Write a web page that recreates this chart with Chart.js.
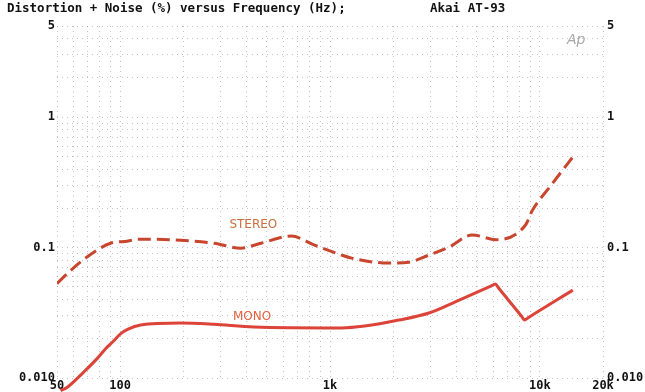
<!DOCTYPE html>
<html>
<head>
<meta charset="utf-8">
<script src="https://cdn.jsdelivr.net/npm/chart.js@4"></script>
<style>
  html, body { margin: 0; padding: 0; background: #fff; }
  #wrap { width: 645px; height: 392px; position: relative; }
</style>
</head>
<body>
<div id="wrap"><canvas id="thd"></canvas></div>
<script>
// Frequencies (Hz) and THD+N (%)
const stereoFreq = [50, 60, 74, 90, 108, 125, 194, 280, 376, 469, 654, 843, 1135, 1267, 1906, 2377, 2964, 3695, 4764, 6200, 8546, 9234, 11140, 14840];
const stereoVals = [0.053, 0.070, 0.091, 0.108, 0.112, 0.116, 0.114, 0.108, 0.099, 0.108, 0.1225, 0.1045, 0.0876, 0.083, 0.076, 0.0773, 0.0876, 0.101, 0.125, 0.115, 0.149, 0.194, 0.291, 0.53];

const monoFreq = [52, 56, 67, 78, 85, 93, 100, 109, 125, 194, 280, 434, 1135, 1463, 2129, 2964, 4128, 5800, 6138, 6400, 8200, 8454, 8800, 14360];
const monoVals = [0.0080, 0.0085, 0.0111, 0.0142, 0.0167, 0.0192, 0.0217, 0.0237, 0.0255, 0.0264, 0.0258, 0.0246, 0.0242, 0.0250, 0.0278, 0.0315, 0.0396, 0.0504, 0.0525, 0.0483, 0.0296, 0.0278, 0.0290, 0.0472];

// grid values and labelled ticks
const xGrid = [50, 60, 70, 80, 90, 100, 200, 300, 400, 500, 600, 700, 800, 900, 1000,
  2000, 3000, 4000, 5000, 6000, 7000, 8000, 9000, 10000, 20000];
const xTickVals = [50, 100, 1000, 10000, 20000];
const xTickText = ['50', '100', '1k', '10k', '20k'];

const yGrid = [0.01, 0.02, 0.03, 0.04, 0.05, 0.06, 0.07, 0.08, 0.09, 0.1,
  0.2, 0.3, 0.4, 0.5, 0.6, 0.7, 0.8, 0.9, 1, 2, 3, 4, 5];
const yTickVals = [0.01, 0.1, 1, 5];
const yTickText = ['0.010', '0.1', '1', '5'];

const monoFont = { family: "'DejaVu Sans Mono', monospace", weight: 'bold', size: 12 };
const gridStyle = { color: 'rgba(120,120,120,0.45)', lineWidth: 1, drawTicks: false };

function pairs(xs, ys) {
    return xs.map((x, i) => ({ x: x, y: ys[i] }));
}

function findLabel(vals, texts, v) {
    const i = vals.findIndex(t => Math.abs(t - v) / t < 1e-6);
    return i >= 0 ? texts[i] : '';
}

// header text, curve names and the Ap mark
const annotations = {
    id: 'annotations',
    afterDraw(chart) {
        const ctx = chart.ctx;
        const xs = chart.scales.x, ys = chart.scales.y;
        ctx.save();
        ctx.textBaseline = 'middle';
        ctx.fillStyle = '#111';
        ctx.font = "bold 12.5px 'DejaVu Sans Mono', monospace";
        ctx.textAlign = 'left';
        ctx.fillText('Distortion + Noise (%) versus Frequency (Hz);', 7, 9);
        ctx.fillText('Akai AT-93', 430, 9);

        ctx.font = "italic 14px 'DejaVu Sans', sans-serif";
        ctx.fillStyle = '#a8a8a8';
        ctx.fillText('Ap', 567, 40);

        ctx.textAlign = 'center';
        ctx.font = "12px 'DejaVu Sans', sans-serif";
        ctx.fillStyle = '#c8703c';
        ctx.fillText('STEREO', xs.getPixelForValue(640) - 36, ys.getPixelForValue(0.148));
        ctx.fillStyle = '#e2603e';
        ctx.fillText('MONO', xs.getPixelForValue(430) - 1, ys.getPixelForValue(0.0296));
        ctx.restore();
    }
};

new Chart(document.getElementById('thd'), {
    type: 'line',
    data: {
        datasets: [
            {
                label: 'STEREO',
                data: pairs(stereoFreq, stereoVals),
                borderColor: '#c8452e',
                borderWidth: 3,
                borderDash: [13, 6],
                pointRadius: 0,
                cubicInterpolationMode: 'monotone',
                fill: false
            },
            {
                label: 'MONO',
                data: pairs(monoFreq, monoVals),
                borderColor: '#dc4439',
                borderWidth: 3,
                pointRadius: 0,
                cubicInterpolationMode: 'monotone',
                fill: false,
                clip: { left: 4, top: 4, right: 4, bottom: 14 }
            }
        ]
    },
    options: {
        responsive: true,
        maintainAspectRatio: false,
        animation: false,
        layout: { padding: { top: 26, left: 0, right: 0, bottom: 0 } },
        plugins: {
            legend: { display: false },
            tooltip: { enabled: false },
            title: { display: false }
        },
        scales: {
            x: {
                type: 'logarithmic',
                min: 50,
                max: 20000,
                afterBuildTicks: s => { s.ticks = xGrid.map(v => ({ value: v })); },
                afterFit: s => { s.height = 14; },
                ticks: {
                    autoSkip: false,
                    maxRotation: 0,
                    padding: 1,
                    color: '#111',
                    font: monoFont,
                    callback: v => findLabel(xTickVals, xTickText, v)
                },
                grid: gridStyle,
                border: { display: false, dash: [1, 4] }
            },
            y: {
                type: 'logarithmic',
                position: 'left',
                min: 0.01,
                max: 5,
                afterBuildTicks: s => { s.ticks = yGrid.map(v => ({ value: v })); },
                afterFit: s => { s.width = 57; },
                ticks: {
                    autoSkip: false,
                    padding: 2,
                    color: '#111',
                    font: monoFont,
                    callback: v => findLabel(yTickVals, yTickText, v)
                },
                grid: gridStyle,
                border: { display: false, dash: [1, 4] }
            },
            y2: {
                type: 'logarithmic',
                position: 'right',
                min: 0.01,
                max: 5,
                afterBuildTicks: s => { s.ticks = yTickVals.map(v => ({ value: v })); },
                afterFit: s => { s.width = 42; },
                ticks: {
                    autoSkip: false,
                    padding: 4,
                    color: '#111',
                    font: monoFont,
                    callback: v => findLabel(yTickVals, yTickText, v)
                },
                grid: { display: false, drawTicks: false },
                border: { display: false }
            }
        }
    },
    plugins: [annotations]
});
</script>
</body>
</html>
